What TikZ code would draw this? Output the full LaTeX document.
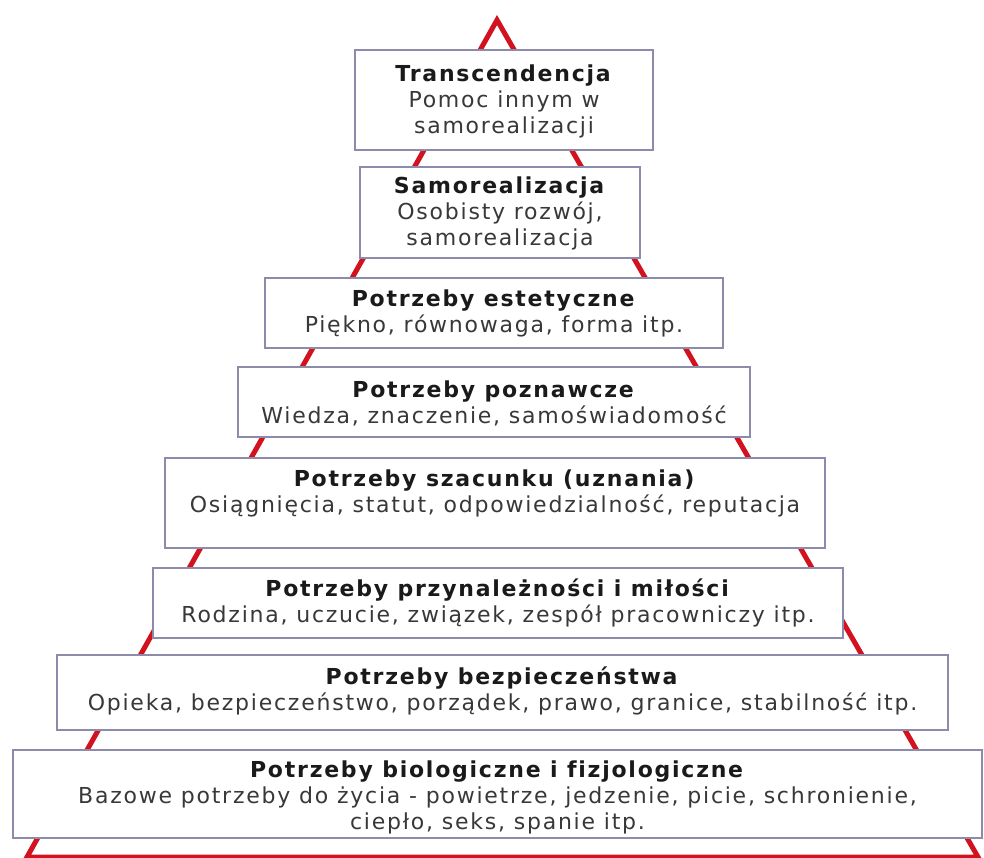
\documentclass[tikz,border=0pt]{standalone}
\usepackage{fontspec}
\setmainfont{DejaVu Sans}[LetterSpace=8,Ligatures=NoCommon]
\definecolor{pyrred}{HTML}{D2121E}
\definecolor{boxgray}{HTML}{8C8CAA}
\definecolor{txtgray}{HTML}{383838}
\definecolor{ttlgray}{HTML}{1A1A1A}
\newcommand{\lvltitle}[1]{\textcolor{ttlgray}{\textbf{#1}}}
\begin{document}
\begin{tikzpicture}[x=1pt,y=-1pt,
  lvlbox/.style={draw=boxgray,line width=2.6pt,fill=white,rectangle,inner sep=0pt},
  lvltxt/.style={align=center,text=txtgray,font=\fontsize{22}{26}\selectfont,inner sep=0pt},
  pyr/.style={draw=pyrred,line width=5pt,line join=miter}]
\useasboundingbox (0,0) rectangle (984,857);
\coordinate (apex) at (497,20);
\coordinate (bl) at (27,857);
\coordinate (br) at (978,857);
\draw[pyr] (bl) -- (apex) -- (br) -- cycle;
% boxes: center x, center y, width, height
\node[lvlbox,minimum width=298pt,minimum height=100pt] (b1) at (504,100) {};
\node[lvlbox,minimum width=280pt,minimum height=91pt] (b2) at (500,212.5) {};
\node[lvlbox,minimum width=458pt,minimum height=70pt] (b3) at (494,313) {};
\node[lvlbox,minimum width=512pt,minimum height=70pt] (b4) at (494,402) {};
\node[lvlbox,minimum width=660pt,minimum height=90pt] (b5) at (495,503) {};
\node[lvlbox,minimum width=690pt,minimum height=70pt] (b6) at (498,603) {};
\node[lvlbox,minimum width=891pt,minimum height=75pt] (b7) at (502.5,692.5) {};
\node[lvlbox,minimum width=969pt,minimum height=88pt] (b8) at (497.5,794) {};
% texts
\node[lvltxt] (t1) at (504,101) {\lvltitle{Transcendencja}\\Pomoc innym w\\samorealizacji};
\node[lvltxt] (t2) at (500,213.5) {\lvltitle{Samorealizacja}\\Osobisty rozwój,\\samorealizacja};
\node[lvltxt] (t3) at (494,313) {\lvltitle{Potrzeby estetyczne}\\Piękno, równowaga, forma itp.};
\node[lvltxt] (t4) at (494,403) {\lvltitle{Potrzeby poznawcze}\\Wiedza, znaczenie, samoświadomość};
\node[lvltxt] (t5) at (495,493) {\lvltitle{Potrzeby szacunku (uznania)}\\Osiągnięcia, statut, odpowiedzialność, reputacja};
\node[lvltxt] (t6) at (498,603) {\lvltitle{Potrzeby przynależności i miłości}\\Rodzina, uczucie, związek, zespół pracowniczy itp.};
\node[lvltxt] (t7) at (502.5,691) {\lvltitle{Potrzeby bezpieczeństwa}\\Opieka, bezpieczeństwo, porządek, prawo, granice, stabilność itp.};
\node[lvltxt] (t8) at (497.5,797) {\lvltitle{Potrzeby biologiczne i fizjologiczne}\\Bazowe potrzeby do życia - powietrze, jedzenie, picie, schronienie,\\ciepło, seks, spanie itp.};
\end{tikzpicture}
\end{document}
